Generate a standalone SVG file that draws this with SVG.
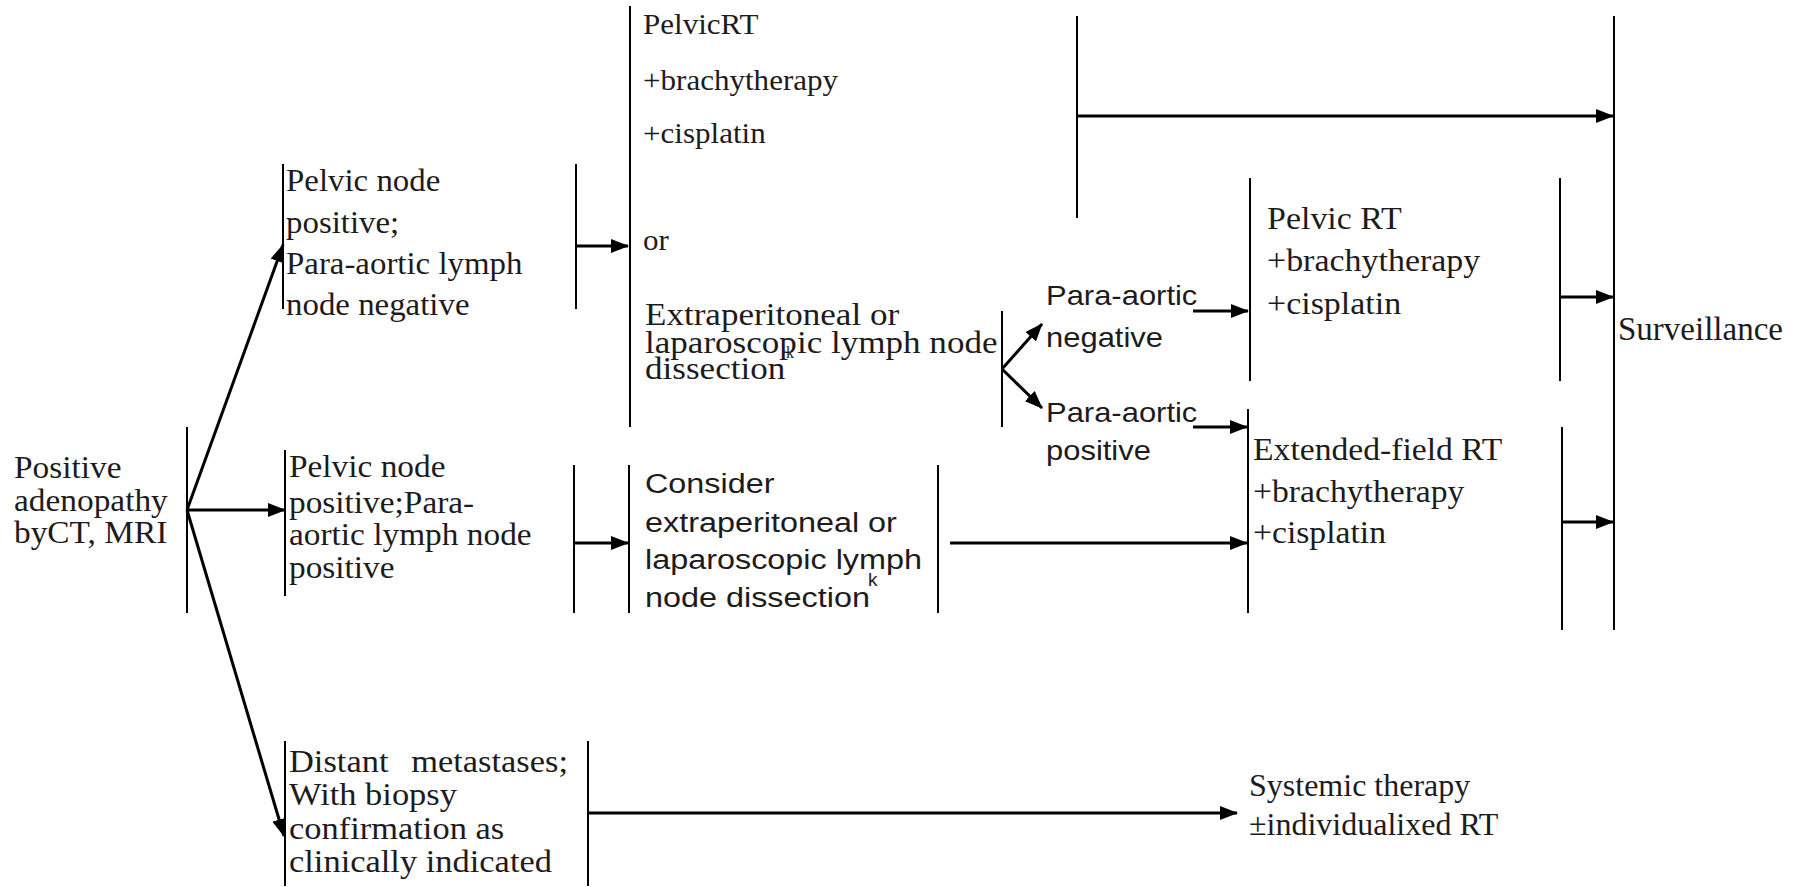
<svg xmlns="http://www.w3.org/2000/svg" width="1796" height="887" viewBox="0 0 1796 887">
<defs>
<style>
.bg{fill:#ffffff}
.bar{stroke:#000;stroke-width:2;fill:none}
.arr{stroke:#000;stroke-width:3;fill:none;marker-end:url(#ah)}
.t{font-family:"Liberation Serif","Times New Roman",serif;fill:#1e1b1c}
.s{font-family:"Liberation Sans",Arial,sans-serif;fill:#1e1b1c}
</style>
<marker id="ah" markerUnits="userSpaceOnUse" markerWidth="18" markerHeight="14" refX="17" refY="7" orient="auto">
<path d="M0,0 L18,7 L0,14 z" fill="#000"/>
</marker>
</defs>
<rect class="bg" x="0" y="0" width="1796" height="887"/>

<g id="node-start">
<line class="bar" x1="187" y1="427" x2="187" y2="613"/>
<g transform="translate(14,0) scale(1.06,1)" class="t" font-size="31.5">
<text x="0" y="478">Positive</text>
<text x="0" y="511">adenopathy</text>
<text x="0" y="543">byCT, MRI</text>
</g>
</g>

<g id="node-pelvic-neg">
<line class="bar" x1="283" y1="164" x2="283" y2="309"/>
<line class="bar" x1="576" y1="164" x2="576" y2="309"/>
<g transform="translate(286,0) scale(1.075,1)" class="t" font-size="30.6">
<text x="0" y="191">Pelvic node</text>
<text x="0" y="233">positive;</text>
<text x="0" y="274">Para-aortic lymph</text>
<text x="0" y="315">node negative</text>
</g>
</g>

<g id="node-option">
<line class="bar" x1="630" y1="6" x2="630" y2="427"/>
<g transform="translate(643,0) scale(1.09,1)" class="t" font-size="28.5">
<text x="0" y="34">PelvicRT</text>
<text x="0" y="90">+brachytherapy</text>
<text x="0" y="143">+cisplatin</text>
<text x="0" y="250">or</text>
</g>
<g transform="translate(645,0) scale(1.11,1)" class="t" font-size="31.6">
<text x="0" y="325">Extraperitoneal or</text>
<text x="0" y="353">laparoscopic lymph node</text>
<text x="0" y="379">dissection</text>
</g>
<text class="t" x="786" y="358" font-size="16">k</text>
</g>

<g id="node-junction">
<line class="bar" x1="1077" y1="16" x2="1077" y2="218"/>
</g>

<g id="node-branch">
<line class="bar" x1="1002" y1="311" x2="1002" y2="427"/>
</g>

<g id="node-para-neg">
<g transform="translate(1046,0) scale(1.13,1)" class="s" font-size="27.4">
<text x="0" y="305">Para-aortic</text>
<text x="0" y="347">negative</text>
</g>
</g>

<g id="node-para-pos">
<g transform="translate(1046,0) scale(1.13,1)" class="s" font-size="27.4">
<text x="0" y="422">Para-aortic</text>
<text x="0" y="460">positive</text>
</g>
</g>

<g id="node-pelvic-rt">
<line class="bar" x1="1250" y1="178" x2="1250" y2="381"/>
<line class="bar" x1="1560" y1="178" x2="1560" y2="381"/>
<g transform="translate(1267,0) scale(1.11,1)" class="t" font-size="30.6">
<text x="0" y="229">Pelvic RT</text>
<text x="0" y="271">+brachytherapy</text>
<text x="0" y="314">+cisplatin</text>
</g>
</g>

<g id="node-extended">
<line class="bar" x1="1248" y1="409" x2="1248" y2="613"/>
<line class="bar" x1="1562" y1="427" x2="1562" y2="630"/>
<g transform="translate(1253,0) scale(1.1,1)" class="t" font-size="30.6">
<text x="0" y="460">Extended-field RT</text>
<text x="0" y="502">+brachytherapy</text>
<text x="0" y="543">+cisplatin</text>
</g>
</g>

<g id="node-surveillance">
<line class="bar" x1="1614" y1="16" x2="1614" y2="630"/>
<text class="t" x="1618" y="340" font-size="33">Surveillance</text>
</g>

<g id="node-pelvic-pos">
<line class="bar" x1="285" y1="450" x2="285" y2="596"/>
<g transform="translate(289,0) scale(1.09,1)" class="t" font-size="30.6">
<text x="0" y="477">Pelvic node</text>
<text x="0" y="513">positive;Para-</text>
<text x="0" y="545">aortic lymph node</text>
<text x="0" y="578">positive</text>
</g>
</g>

<g id="node-consider">
<line class="bar" x1="574" y1="465" x2="574" y2="613"/>
<line class="bar" x1="629" y1="465" x2="629" y2="613"/>
<line class="bar" x1="938" y1="465" x2="938" y2="613"/>
<g transform="translate(645,0) scale(1.14,1)" class="s" font-size="28.4">
<text x="0" y="493">Consider</text>
<text x="0" y="532">extraperitoneal or</text>
<text x="0" y="569">laparoscopic lymph</text>
<text x="0" y="607">node dissection</text>
</g>
<text class="s" x="868" y="586" font-size="19">k</text>
</g>

<g id="node-distant">
<line class="bar" x1="285" y1="741" x2="285" y2="886"/>
<line class="bar" x1="588" y1="741" x2="588" y2="886"/>
<g transform="translate(289,0) scale(1.09,1)" class="t" font-size="31.6">
<text x="0" y="772">Distant</text>
<text x="256" y="772" text-anchor="end">metastases;</text>
<text x="0" y="805">With biopsy</text>
<text x="0" y="839">confirmation as</text>
<text x="0" y="872">clinically indicated</text>
</g>
</g>

<g id="node-systemic">
<text class="t" x="1249" y="796" font-size="32">Systemic therapy</text>
<text class="t" x="1249" y="835" font-size="32">±individualixed RT</text>
</g>

<g id="connectors">
<line class="arr" x1="187" y1="510" x2="283" y2="245"/>
<line class="arr" x1="187" y1="510" x2="285" y2="510"/>
<line class="arr" x1="187" y1="510" x2="284" y2="836"/>
<line class="arr" x1="576" y1="246" x2="628" y2="246"/>
<line class="arr" x1="1077" y1="116" x2="1613" y2="116"/>
<line class="arr" x1="1002" y1="369" x2="1042" y2="324"/>
<line class="arr" x1="1002" y1="369" x2="1042" y2="408"/>
<line class="arr" x1="1193" y1="311" x2="1248" y2="311"/>
<line class="arr" x1="1193" y1="427" x2="1247" y2="427"/>
<line class="arr" x1="1560" y1="297" x2="1613" y2="297"/>
<line class="arr" x1="1562" y1="522" x2="1613" y2="522"/>
<line class="arr" x1="574" y1="543" x2="628" y2="543"/>
<line class="arr" x1="950" y1="543" x2="1247" y2="543"/>
<line class="arr" x1="588" y1="813" x2="1237" y2="813"/>
</g>
</svg>
